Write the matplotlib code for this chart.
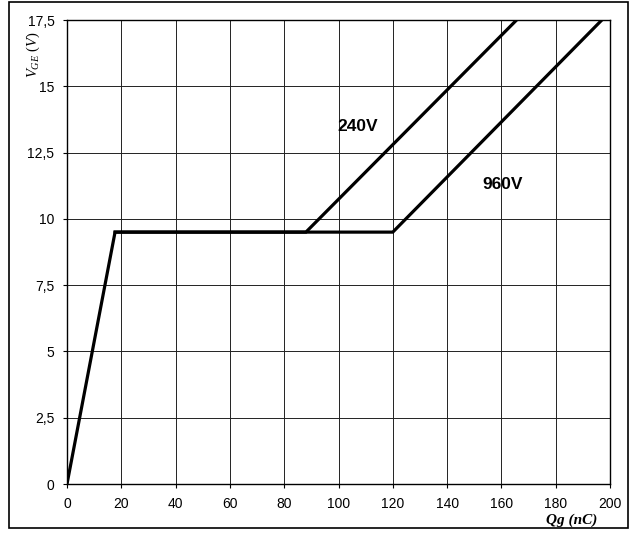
import matplotlib
matplotlib.use("Agg")
import matplotlib.pyplot as plt
from matplotlib.patches import Rectangle

# Data (Qg in nC, VGE in V)
qg_240 = [0, 17.7, 88, 165.6]
vge_240 = [0, 9.5, 9.5, 17.5]
qg_960 = [17.7, 120, 197]
vge_960 = [9.5, 9.5, 17.5]

xticks = [0, 20, 40, 60, 80, 100, 120, 140, 160, 180, 200]
yticks = [0, 2.5, 5, 7.5, 10, 12.5, 15, 17.5]
ytick_labels = ["0", "2,5", "5", "7,5", "10", "12,5", "15", "17,5"]

plt.rcParams['font.family'] = ['Liberation Sans', 'DejaVu Sans']
plt.rcParams['mathtext.fontset'] = 'custom'
plt.rcParams['mathtext.rm'] = 'Liberation Serif'
plt.rcParams['mathtext.it'] = 'Liberation Serif:italic'
plt.rcParams['mathtext.bf'] = 'Liberation Serif:bold'

fig = plt.figure(figsize=(6.35, 5.36), dpi=100)
ax = fig.add_axes([67/635, 52/536, (610-67)/635, (484-20)/536])

ax.plot(qg_240, vge_240, color='black', lw=2.3, solid_joinstyle='miter')
ax.plot(qg_960, vge_960, color='black', lw=2.3, solid_joinstyle='miter')

ax.set_xlim(0, 200)
ax.set_ylim(0, 17.5)
ax.set_xticks(xticks)
ax.set_yticks(yticks)
ax.set_yticklabels(ytick_labels)
ax.grid(True, color='#222222', lw=0.7)
ax.set_axisbelow(True)
ax.tick_params(direction='out', length=3, width=0.8, labelsize=10, pad=6)
for s in ax.spines.values():
    s.set_linewidth(1.0)

ax.text(99.5, 13.5, "240V", fontsize=12.5, fontweight='bold', va='center', ha='left')
ax.text(153, 11.3, "960V", fontsize=12.5, fontweight='bold', va='center', ha='left')

fig.text(33/635, 1 - 54/536, r"$V_{GE}$ $\mathit{(V)}$", rotation=90, ha='center', va='center',
         fontsize=10.5)
fig.text(572/635, 1 - 520/536, "Qg (nC)", ha='center', va='center',
         fontsize=11, family='Liberation Serif', style='italic', fontweight='bold')

fig.patches.append(Rectangle((9/635, 1 - 528/536), (628-9)/635, (528-2)/536,
                             transform=fig.transFigure, fill=False, lw=1.2,
                             edgecolor='black'))

fig.savefig("out.png", dpi=100)
